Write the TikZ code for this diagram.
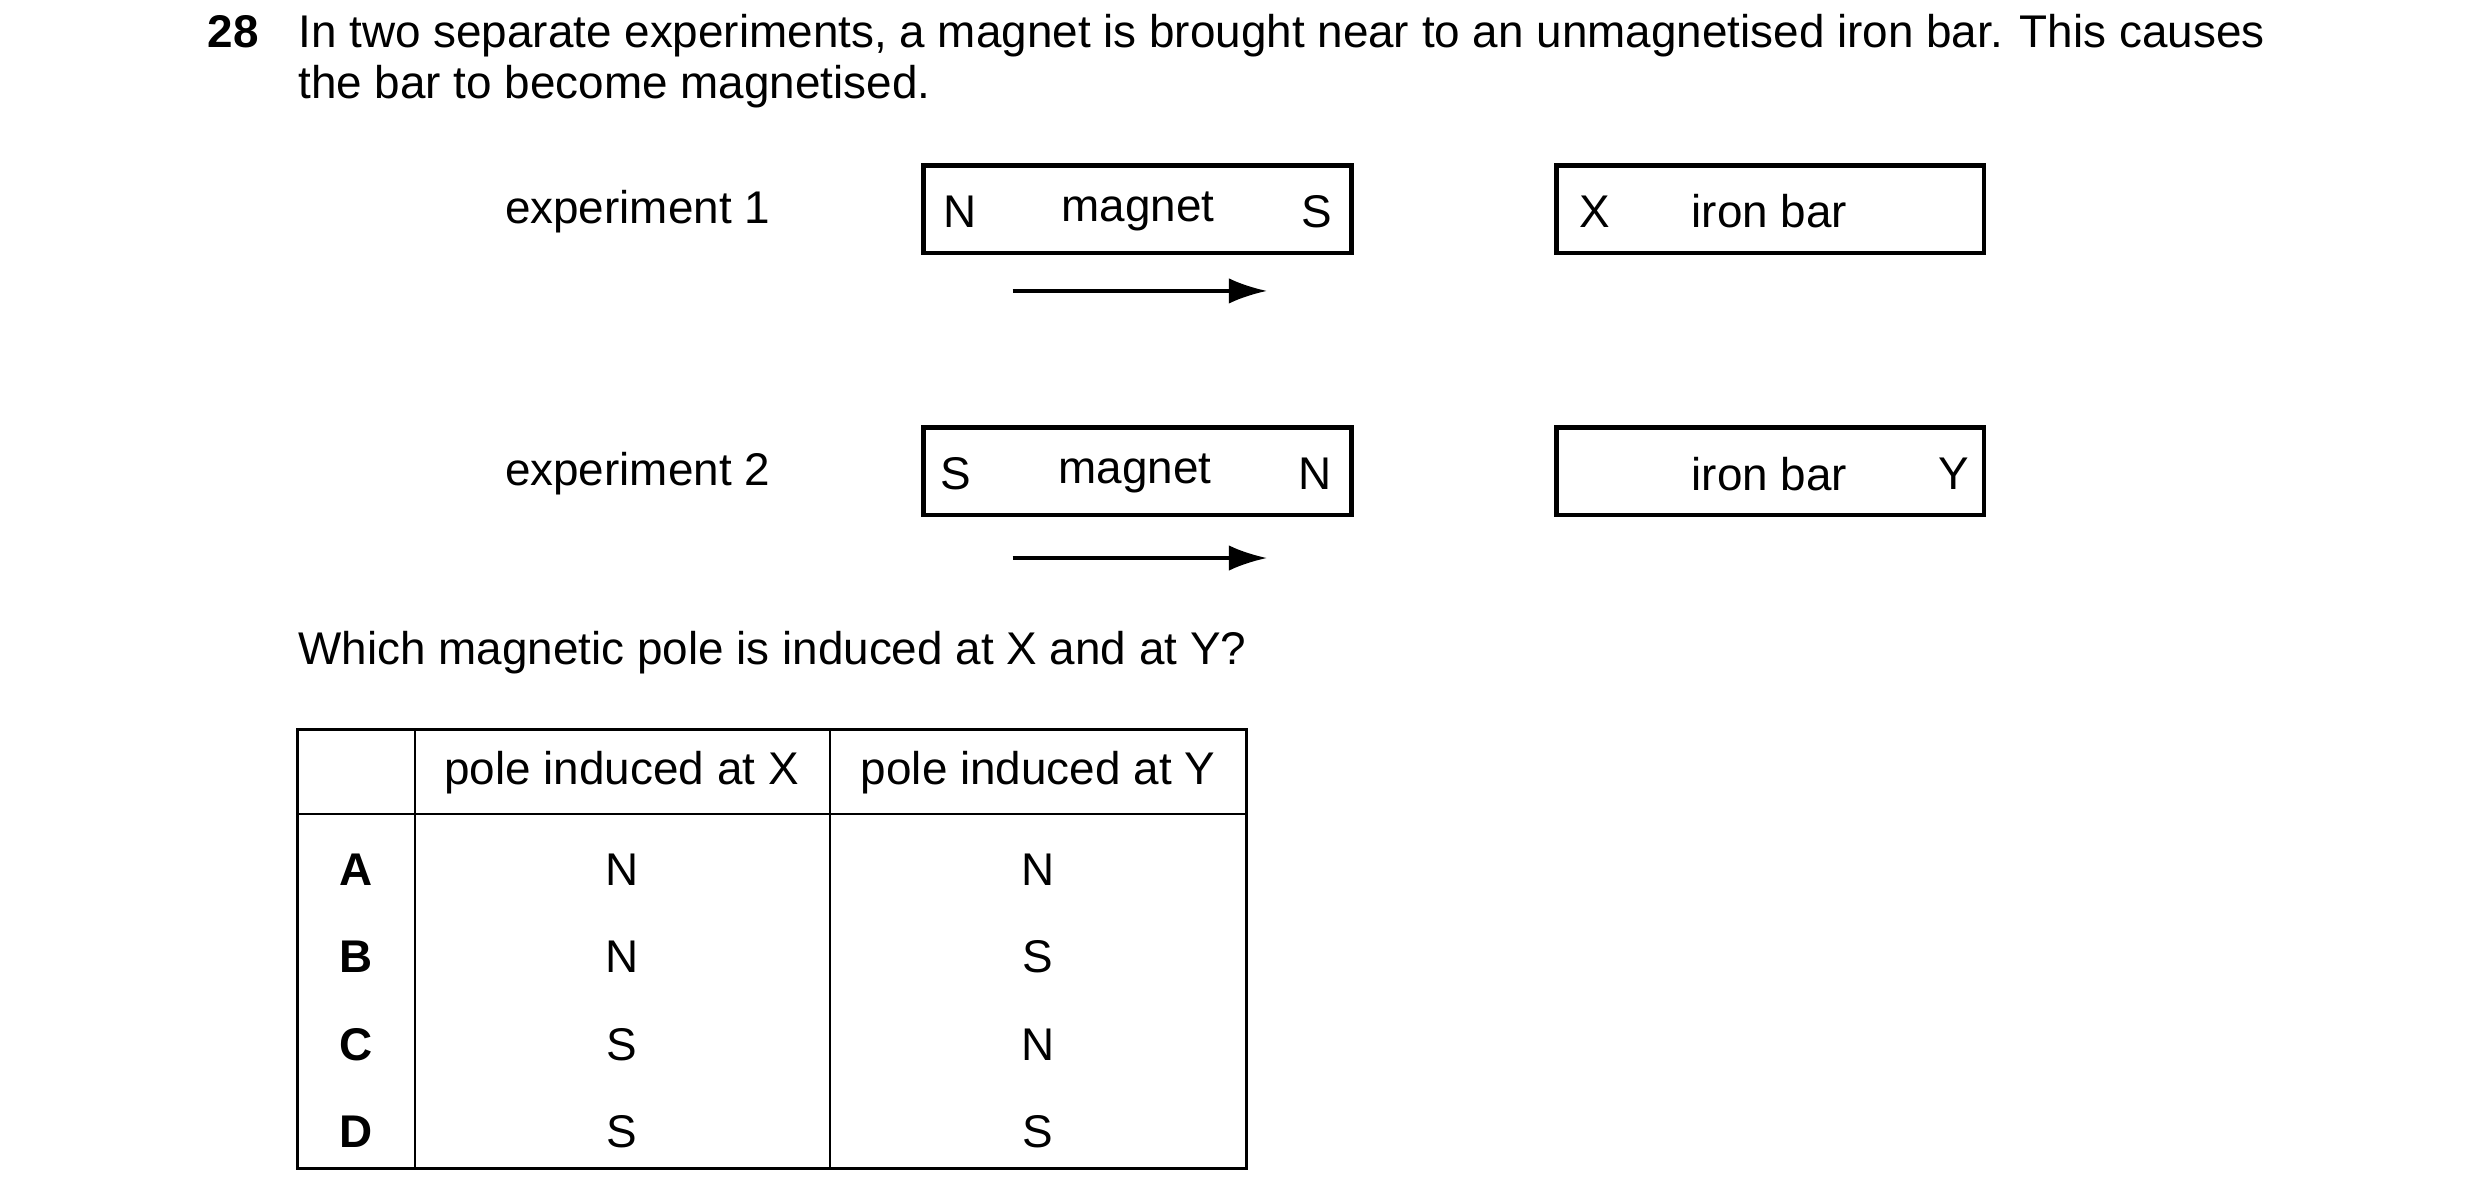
\documentclass[tikz,border=0pt]{standalone}
\usepackage{fontspec}
\setmainfont{Liberation Sans}
\usetikzlibrary{positioning,arrows.meta}
\tikzstyle{txt} = [inner sep=0pt, font=\fontsize{8.2}{10}\selectfont]
\tikzstyle{bar} = [draw=black, line width=0.8pt, inner sep=0pt]
\tikzstyle{arrow} = [line width=0.6pt, -{Latex[length=2.4mm,width=1.6mm]}]
\tikzstyle{grid} = [line width=0.45pt]
\begin{document}
\begin{tikzpicture}[x=0.01cm, y=-0.01cm, every node/.style={txt}]
\useasboundingbox (0,0) rectangle (1560,757);
% question text
\node (num) [anchor=base west, font=\fontsize{8.2}{10}\selectfont\bfseries] at (130,30) {28};
\node (line1) [anchor=base west] at (187,30) {In two separate experiments, a magnet is brought near to an unmagnetised iron bar. This causes};
\node (line2) [anchor=base west] at (187,62) {the bar to become magnetised.};
% experiment 1
\node (exA) [anchor=west] at (317,133) {experiment 1};
\draw [bar] (581,104) rectangle (850,159);
\draw [bar] (979,104) rectangle (1248,159);
\node (magA) at (716,133) {magnet};
\node (nA) at (604,133) {N};
\node (sA) at (828,133) {S};
\node (ironA) at (1113,133) {iron bar};
\node (X) at (1003,133) {X};
\coordinate (a1) at (637,183);
\coordinate (a2) at (797,183);
\draw [arrow] (a1) -- (a2);
% experiment 2
\node (exB) [anchor=west] at (317,298) {experiment 2};
\draw [bar] (581,269) rectangle (850,324);
\draw [bar] (979,269) rectangle (1248,324);
\node (magB) at (714,298) {magnet};
\node (sB) at (601,298) {S};
\node (nB) at (827,298) {N};
\node (ironB) at (1113,298) {iron bar};
\node (Y) at (1229,298) {Y};
\coordinate (b1) at (637,351);
\coordinate (b2) at (797,351);
\draw [arrow] (b1) -- (b2);
\node (ask) [anchor=base west] at (187,418) {Which magnetic pole is induced at X and at Y?};
% table
\draw [grid] (187,459) rectangle (784,735);
\draw [grid] (187,512) -- (784,512);
\draw [grid] (261,459) -- (261,735);
\draw [grid] (522,459) -- (522,735);
\node (hX) at (391,486) {pole induced at X};
\node (hY) at (653,486) {pole induced at Y};
\foreach \r/\x/\y [count=\i] in {A/N/N, B/N/S, C/S/N, D/S/S} {
  \node (r\i) [font=\fontsize{8.2}{10}\selectfont\bfseries] at (224,492+55*\i) {\r};
  \node (x\i) at (391,492+55*\i) {\x};
  \node (y\i) at (653,492+55*\i) {\y};
}
\end{tikzpicture}
\end{document}
